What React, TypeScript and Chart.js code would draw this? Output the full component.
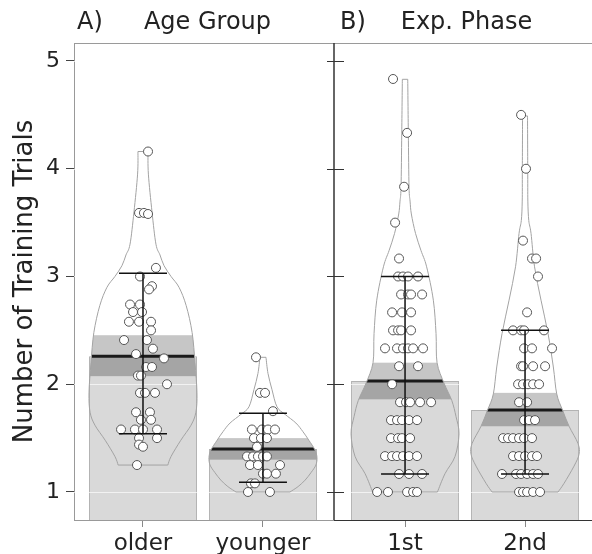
import React, { useEffect, useRef } from 'react';
import { Chart, registerables } from 'chart.js';

Chart.register(...registerables);

const FONT = "'DejaVu Sans', Verdana, sans-serif";
Chart.defaults.font.family = FONT;

// ---------- axis ----------
const Y_MIN = 0.74;
const Y_MAX = 5.167;
const TICK_VALUES = [1, 2, 3, 4, 5];
const Y_TITLE = 'Number of Training Trials';

// ---------- panel A : Age Group ----------
const AGE_LABELS = ['older', 'younger'];
const AGE_MEANS = [2.26, 1.4];
const AGE_BAND_LO = [2.075, 1.3];
const AGE_BAND_HI = [2.455, 1.5];
const AGE_Q_LO = [1.54, 1.09];
const AGE_Q_HI = [3.03, 1.73];

const OLDER_Y = [4.16, 3.59, 3.59, 3.58, 3.08, 3.0, 2.91, 2.88, 2.74, 2.74, 2.67, 2.67, 2.58, 2.58, 2.58, 2.5, 2.41, 2.41, 2.33, 2.28, 2.24, 2.16, 2.16, 2.08, 2.08, 2.0, 1.92, 1.92, 1.92, 1.74, 1.74, 1.67, 1.67, 1.58, 1.58, 1.58, 1.58, 1.5, 1.5, 1.44, 1.42, 1.25];
const OLDER_JIT = [0.042, -0.033, 0.008, 0.042, 0.108, -0.025, 0.075, 0.05, -0.108, -0.025, -0.083, -0.008, -0.117, -0.033, 0.067, 0.067, -0.158, 0.033, 0.083, -0.058, 0.175, 0.025, 0.075, -0.042, -0.017, 0.2, -0.025, 0.017, 0.1, -0.058, 0.058, -0.017, 0.067, -0.183, -0.067, 0, 0.117, -0.033, 0.117, -0.033, 0, -0.05];
const OLDER_BEAN_V = [4.16, 3.95, 3.6, 3.3, 3.2, 3.1, 3.0, 2.9, 2.73, 2.48, 2.2, 1.92, 1.74, 1.62, 1.48, 1.33, 1.25];
const OLDER_BEAN_D = [0.093, 0.1, 0.167, 0.24, 0.315, 0.39, 0.52, 0.667, 0.8, 0.91, 0.963, 1.0, 0.98, 0.89, 0.7, 0.52, 0.46];

const YOUNGER_Y = [2.25, 1.92, 1.92, 1.75, 1.58, 1.58, 1.58, 1.58, 1.5, 1.5, 1.5, 1.42, 1.33, 1.33, 1.33, 1.33, 1.33, 1.25, 1.25, 1.25, 1.17, 1.17, 1.17, 1.08, 1.08, 1.0, 1.0];
const YOUNGER_JIT = [-0.058, -0.025, 0.017, 0.083, -0.092, -0.008, 0.042, 0.1, -0.075, -0.017, 0.033, -0.05, -0.133, -0.083, -0.042, 0, 0.033, -0.108, -0.042, 0.142, 0, 0.033, 0.108, -0.1, -0.067, -0.125, 0.058];
const YOUNGER_BEAN_V = [2.25, 2.1, 1.95, 1.79, 1.72, 1.64, 1.56, 1.48, 1.39, 1.32, 1.25, 1.18, 1.11, 1.05, 1.0];
const YOUNGER_BEAN_D = [0.056, 0.093, 0.167, 0.26, 0.41, 0.61, 0.74, 0.85, 0.963, 1.0, 0.98, 0.89, 0.78, 0.65, 0.5];

// ---------- panel B : Exp. Phase ----------
const PHASE_LABELS = ['1st', '2nd'];
const PHASE_MEANS = [2.03, 1.76];
const PHASE_BAND_LO = [1.86, 1.61];
const PHASE_BAND_HI = [2.2, 1.92];
const PHASE_Q_LO = [1.167, 1.167];
const PHASE_Q_HI = [3.0, 2.5];

const FIRST_Y = [4.833, 4.333, 3.833, 3.5, 3.167, 3, 3, 3, 3, 2.833, 2.833, 2.833, 2.833, 2.667, 2.667, 2.667, 2.5, 2.5, 2.5, 2.5, 2.333, 2.333, 2.333, 2.333, 2.333, 2.333, 2.167, 2.167, 2, 1.833, 1.833, 1.833, 1.833, 1.833, 1.667, 1.667, 1.667, 1.667, 1.667, 1.5, 1.5, 1.5, 1.5, 1.333, 1.333, 1.333, 1.333, 1.333, 1.333, 1.167, 1.167, 1.167, 1, 1, 1, 1, 1];
const FIRST_JIT = [-0.1, 0.017, -0.008, -0.083, -0.05, -0.058, -0.017, 0.025, 0.108, -0.033, 0.025, 0.05, 0.142, -0.108, -0.025, 0.05, -0.1, -0.058, -0.033, 0.05, -0.167, -0.067, -0.017, 0.025, 0.067, 0.15, -0.05, 0.108, -0.108, -0.042, 0.008, 0.042, 0.125, 0.217, -0.117, -0.067, -0.025, 0.033, 0.1, -0.117, -0.058, -0.025, 0.042, -0.167, -0.108, -0.067, -0.017, 0.033, 0.1, -0.05, 0.033, 0.142, -0.233, -0.142, 0.017, 0.067, 0.1];
const FIRST_BEAN_V = [4.83, 4.33, 3.83, 3.7, 3.58, 3.4, 3.24, 3.09, 2.78, 2.47, 2.2, 2.01, 1.85, 1.7, 1.54, 1.33, 1.17, 1.0];
const FIRST_BEAN_D = [0.05, 0.061, 0.074, 0.093, 0.117, 0.194, 0.296, 0.4, 0.524, 0.574, 0.593, 0.722, 0.865, 0.944, 1.0, 0.926, 0.74, 0.6];

const SECOND_Y = [4.5, 4, 3.333, 3.167, 3.167, 3, 2.667, 2.5, 2.5, 2.5, 2.5, 2.333, 2.333, 2.333, 2.167, 2.167, 2.167, 2.167, 2, 2, 2, 2, 2, 1.833, 1.833, 1.667, 1.667, 1.667, 1.5, 1.5, 1.5, 1.5, 1.5, 1.5, 1.333, 1.333, 1.333, 1.333, 1.333, 1.167, 1.167, 1.167, 1.167, 1.167, 1.167, 1, 1, 1, 1, 1];
const SECOND_JIT = [-0.033, 0.008, -0.017, 0.058, 0.092, 0.108, 0.017, -0.1, -0.033, -0.008, 0.158, -0.008, 0.058, 0.225, -0.033, -0.017, 0.067, 0.167, -0.058, -0.017, 0.025, 0.067, 0.117, -0.05, 0.017, -0.008, 0.033, 0.083, -0.183, -0.142, -0.1, -0.05, -0.008, 0.058, -0.1, -0.05, 0, 0.058, 0.1, -0.192, -0.075, -0.033, 0.017, 0.067, 0.108, -0.05, -0.017, 0.017, 0.067, 0.125];
const SECOND_BEAN_V = [4.49, 3.99, 3.7, 3.52, 3.4, 3.09, 2.78, 2.47, 2.16, 1.91, 1.76, 1.61, 1.45, 1.35, 1.24, 1.08, 1.0];
const SECOND_BEAN_D = [0.046, 0.05, 0.052, 0.069, 0.111, 0.176, 0.296, 0.426, 0.524, 0.587, 0.694, 0.815, 0.981, 1.0, 0.907, 0.722, 0.611];

// ---------- styling ----------
const BEAN_HALF = 0.45; // max half-width of bean, in category units
const QUANT_CAP = 0.2;
const TEXT = '#222';

type Group = {
  mean: number; bandLo: number; bandHi: number; qLo: number; qHi: number;
  beanV: number[]; beanD: number[]; ys: number[]; jit: number[];
};

const AGE_GROUPS: Group[] = [
  { mean: AGE_MEANS[0], bandLo: AGE_BAND_LO[0], bandHi: AGE_BAND_HI[0], qLo: AGE_Q_LO[0], qHi: AGE_Q_HI[0], beanV: OLDER_BEAN_V, beanD: OLDER_BEAN_D, ys: OLDER_Y, jit: OLDER_JIT },
  { mean: AGE_MEANS[1], bandLo: AGE_BAND_LO[1], bandHi: AGE_BAND_HI[1], qLo: AGE_Q_LO[1], qHi: AGE_Q_HI[1], beanV: YOUNGER_BEAN_V, beanD: YOUNGER_BEAN_D, ys: YOUNGER_Y, jit: YOUNGER_JIT },
];
const PHASE_GROUPS: Group[] = [
  { mean: PHASE_MEANS[0], bandLo: PHASE_BAND_LO[0], bandHi: PHASE_BAND_HI[0], qLo: PHASE_Q_LO[0], qHi: PHASE_Q_HI[0], beanV: FIRST_BEAN_V, beanD: FIRST_BEAN_D, ys: FIRST_Y, jit: FIRST_JIT },
  { mean: PHASE_MEANS[1], bandLo: PHASE_BAND_LO[1], bandHi: PHASE_BAND_HI[1], qLo: PHASE_Q_LO[1], qHi: PHASE_Q_HI[1], beanV: SECOND_BEAN_V, beanD: SECOND_BEAN_D, ys: SECOND_Y, jit: SECOND_JIT },
];

type P = { x: number; y: number };

function spline(ctx: CanvasRenderingContext2D, p: P[]) {
  for (let i = 0; i < p.length - 1; i++) {
    const p0 = p[Math.max(i - 1, 0)], p1 = p[i], p2 = p[i + 1], p3 = p[Math.min(i + 2, p.length - 1)];
    ctx.bezierCurveTo(
      p1.x + (p2.x - p0.x) / 6, p1.y + (p2.y - p0.y) / 6,
      p2.x - (p3.x - p1.x) / 6, p2.y - (p3.y - p1.y) / 6,
      p2.x, p2.y);
  }
}

function beanPath(ctx: CanvasRenderingContext2D, xs: any, ys: any, c: number, g: Group) {
  const right: P[] = g.beanV.map((v, k) => ({ x: xs.getPixelForValue(c + g.beanD[k] * BEAN_HALF), y: ys.getPixelForValue(v) }));
  const left: P[] = g.beanV.map((v, k) => ({ x: xs.getPixelForValue(c - g.beanD[k] * BEAN_HALF), y: ys.getPixelForValue(v) })).reverse();
  ctx.beginPath();
  ctx.moveTo(right[0].x, right[0].y);
  spline(ctx, right);
  ctx.lineTo(left[0].x, left[0].y);
  spline(ctx, left);
  ctx.closePath();
}

function piratePlugin(groups: Group[], tag: string, title: string, isB: boolean) {
  return {
    id: 'pirate' + (isB ? 'B' : 'A'),
    afterDatasetDraw(chart: any, args: any) {
      if (args.index !== 0) return;
      const { ctx, chartArea: ca } = chart;
      const xs = chart.scales.x, ys = chart.scales.y;
      ctx.save();
      // light grid lines over the bars
      ctx.strokeStyle = 'rgba(255,255,255,0.65)';
      ctx.lineWidth = 1;
      TICK_VALUES.forEach((v) => {
        const py = Math.round(ys.getPixelForValue(v)) + 0.5;
        ctx.beginPath(); ctx.moveTo(ca.left, py); ctx.lineTo(ca.right, py); ctx.stroke();
      });
      groups.forEach((g, i) => {
        const xl = xs.getPixelForValue(i - 0.5), xr = xs.getPixelForValue(i + 0.5);
        const yHi = ys.getPixelForValue(g.bandHi), yM = ys.getPixelForValue(g.mean), yLo = ys.getPixelForValue(g.bandLo);
        ctx.save();
        beanPath(ctx, xs, ys, i, g);
        ctx.clip();
        ctx.fillStyle = '#c6c6c6';
        ctx.fillRect(xl, yHi, xr - xl, yM - yHi);
        ctx.fillStyle = '#a5a5a5';
        ctx.fillRect(xl, yM, xr - xl, yLo - yM);
        ctx.strokeStyle = '#1a1a1a';
        ctx.lineWidth = 3;
        ctx.beginPath(); ctx.moveTo(xl, yM); ctx.lineTo(xr, yM); ctx.stroke();
        ctx.restore();
        beanPath(ctx, xs, ys, i, g);
        ctx.strokeStyle = '#a3a3a3';
        ctx.lineWidth = 1;
        ctx.stroke();
      });
      ctx.restore();
    },
    afterDatasetsDraw(chart: any) {
      const { ctx } = chart;
      const xs = chart.scales.x, ys = chart.scales.y;
      ctx.save();
      ctx.strokeStyle = '#111';
      ctx.lineWidth = 1.5;
      groups.forEach((g, i) => {
        const cx = xs.getPixelForValue(i);
        const yl = ys.getPixelForValue(g.qLo), yh = ys.getPixelForValue(g.qHi);
        const xl = xs.getPixelForValue(i - QUANT_CAP), xr = xs.getPixelForValue(i + QUANT_CAP);
        ctx.beginPath();
        ctx.moveTo(cx, yl); ctx.lineTo(cx, yh);
        ctx.moveTo(xl, yh); ctx.lineTo(xr, yh);
        ctx.moveTo(xl, yl); ctx.lineTo(xr, yl);
        ctx.stroke();
      });
      ctx.restore();
    },
    afterDraw(chart: any) {
      const { ctx, chartArea: ca } = chart;
      const ys = chart.scales.y;
      ctx.save();
      // top frame line
      ctx.strokeStyle = '#9a9a9a';
      ctx.lineWidth = 1;
      ctx.beginPath(); ctx.moveTo(ca.left, ca.top + 0.5); ctx.lineTo(ca.right, ca.top + 0.5); ctx.stroke();
      if (isB) {
        ctx.strokeStyle = '#333';
        ctx.lineWidth = 1.5;
        ctx.beginPath(); ctx.moveTo(ca.left, ca.top); ctx.lineTo(ca.left, ca.bottom); ctx.stroke();
        ctx.lineWidth = 1;
        TICK_VALUES.forEach((v) => {
          const py = Math.round(ys.getPixelForValue(v)) + 0.5;
          ctx.beginPath(); ctx.moveTo(ca.left - 7, py); ctx.lineTo(ca.left + 10, py); ctx.stroke();
        });
      }
      // titles
      ctx.fillStyle = TEXT;
      ctx.font = `24px ${FONT}`;
      ctx.textBaseline = 'alphabetic';
      ctx.textAlign = 'left';
      ctx.fillText(tag, ca.left + (isB ? 6 : 3), 29);
      ctx.textAlign = 'center';
      ctx.fillText(title, (ca.left + ca.right) / 2 + 3.5, 29);
      ctx.restore();
    },
  };
}

function buildConfig(groups: Group[], labels: string[], tag: string, title: string, isB: boolean, xMin: number, xMax: number): any {
  const pts: { x: number; y: number }[] = [];
  groups.forEach((g, i) => g.ys.forEach((v, k) => pts.push({ x: i + g.jit[k], y: v })));
  return {
    type: 'bar',
    data: {
      datasets: [
        {
          type: 'bar',
          data: groups.map((g, i) => ({ x: i, y: g.mean })),
          base: Y_MIN,
          backgroundColor: '#d9d9d9',
          borderColor: '#b3b3b3',
          borderWidth: 1,
          categoryPercentage: 0.9,
          barPercentage: 1,
          order: 2,
        },
        {
          type: 'scatter',
          data: pts,
          pointRadius: 4.5,
          pointBackgroundColor: '#ffffff',
          pointBorderColor: '#555555',
          pointBorderWidth: 1,
          order: 1,
        },
      ],
    },
    options: {
      responsive: false,
      animation: false,
      events: [],
      layout: { autoPadding: false, padding: { top: 43, left: isB ? 14 : 0, right: 0, bottom: 0 } },
      plugins: { legend: { display: false }, tooltip: { enabled: false } },
      scales: {
        x: {
          type: 'linear',
          min: xMin,
          max: xMax,
          offset: false,
          afterBuildTicks: (s: any) => { s.ticks = labels.map((_, i) => ({ value: i })); },
          afterFit: (s: any) => { s.height = 34; s.paddingLeft = 0; s.paddingRight = 0; },
          ticks: {
            callback: (_v: any, i: number) => labels[i],
            font: { family: FONT, size: 23 },
            color: TEXT,
            padding: 3,
            maxRotation: 0,
            autoSkip: false,
          },
          grid: { drawOnChartArea: false, tickLength: 7, tickColor: '#888', offset: false },
          border: { color: isB ? '#333' : '#999', width: 1 },
        },
        y: {
          type: 'linear',
          min: Y_MIN,
          max: Y_MAX,
          display: !isB,
          afterBuildTicks: (s: any) => { s.ticks = TICK_VALUES.map((v) => ({ value: v })); },
          afterFit: (s: any) => { s.width = isB ? 0 : 74; s.paddingTop = 0; s.paddingBottom = 0; },
          ticks: { font: { family: FONT, size: 22 }, color: TEXT, padding: 6 },
          grid: { drawOnChartArea: false, tickLength: 8, tickColor: '#444' },
          border: { color: '#999', width: 1 },
          title: { display: true, text: Y_TITLE, font: { family: FONT, size: 26 }, color: TEXT, padding: { top: 10, bottom: 0 } },
        },
      },
    },
    plugins: [piratePlugin(groups, tag, title, isB)],
  };
}

export default function App() {
  const aRef = useRef<HTMLCanvasElement>(null);
  const bRef = useRef<HTMLCanvasElement>(null);
  useEffect(() => {
    const a = new Chart(aRef.current as HTMLCanvasElement, buildConfig(AGE_GROUPS, AGE_LABELS, 'A)', 'Age Group', false, -0.575, 1.592));
    const b = new Chart(bRef.current as HTMLCanvasElement, buildConfig(PHASE_GROUPS, PHASE_LABELS, 'B)', 'Exp. Phase', true, -0.592, 1.558));
    return () => { a.destroy(); b.destroy(); };
  }, []);
  return (
    <div style={{ position: 'fixed', left: 0, top: 0, width: 592, height: 554, background: '#fff' }}>
      <canvas ref={aRef} width={334} height={554} style={{ position: 'absolute', left: 0, top: 0 }} />
      <canvas ref={bRef} width={272} height={554} style={{ position: 'absolute', left: 320, top: 0 }} />
    </div>
  );
}
